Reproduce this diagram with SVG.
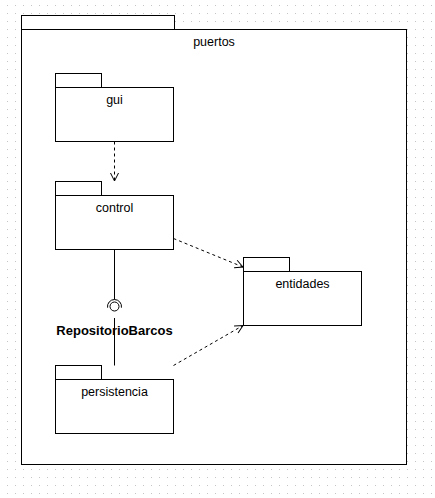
<svg xmlns="http://www.w3.org/2000/svg" width="435" height="498" viewBox="0 0 435 498">
<style>
.pkg{fill:#fff;stroke:#000;stroke-width:1}
.lbl{font-family:"Liberation Sans",Arial,sans-serif;font-size:12.5px;fill:#000;text-anchor:middle}
.bold{font-family:"Liberation Sans",Arial,sans-serif;font-size:13px;font-weight:bold;fill:#000;text-anchor:middle}
.dep{fill:none;stroke:#000;stroke-width:1;stroke-dasharray:3 3}
.solid{fill:none;stroke:#000;stroke-width:1}
</style>
<defs>
<pattern id="grid" width="8" height="8" patternUnits="userSpaceOnUse">
<rect x="7" y="5" width="1" height="1" fill="#c4c4c4"/>
</pattern>
<marker id="open" markerWidth="10" markerHeight="10" refX="8" refY="4" orient="auto" markerUnits="userSpaceOnUse" overflow="visible">
<path d="M0,0 L8,4 L0,8" fill="none" stroke="#000" stroke-width="1"/>
</marker>
</defs>
<rect width="435" height="498" fill="#fff"/>
<rect width="435" height="498" fill="url(#grid)"/>
<g id="puertos">
<rect class="pkg" x="21.5" y="15.5" width="153" height="14"/>
<rect class="pkg" x="21.5" y="29.5" width="385" height="435"/>
<text class="lbl" x="214" y="45.5">puertos</text>
</g>
<g id="gui">
<rect class="pkg" x="55.5" y="73.5" width="46" height="14"/>
<rect class="pkg" x="55.5" y="87.5" width="118" height="54"/>
<text class="lbl" x="114.5" y="103.5">gui</text>
</g>
<g id="control">
<rect class="pkg" x="55.5" y="181.5" width="46" height="14"/>
<rect class="pkg" x="55.5" y="195.5" width="118" height="54"/>
<text class="lbl" x="114.5" y="211.5">control</text>
</g>
<g id="entidades">
<rect class="pkg" x="243.5" y="257.5" width="46" height="14"/>
<rect class="pkg" x="243.5" y="271.5" width="118" height="54"/>
<text class="lbl" x="302.5" y="287.5">entidades</text>
</g>
<g id="persistencia">
<rect class="pkg" x="55.5" y="365.5" width="46" height="14"/>
<rect class="pkg" x="55.5" y="379.5" width="118" height="54"/>
<text class="lbl" x="114.5" y="395.5">persistencia</text>
</g>
<g id="connectors">
<path class="dep" d="M114.5,141.5 L114.5,181" marker-end="url(#open)"/>
<path class="dep" d="M173.5,238.5 L243,267" marker-end="url(#open)"/>
<path class="dep" d="M173.5,365.5 L243,325.5" marker-end="url(#open)"/>
<path class="solid" d="M114.5,249.5 L114.5,299.5"/>
<path class="solid" d="M107.6,307.7 A7,7 0 1 1 121.4,307.7"/>
<circle class="solid" cx="114.5" cy="306.5" r="4.5"/>
<path class="solid" d="M114.5,318 L114.5,365.5"/>
</g>
<g id="RepositorioBarcos">
<text class="bold" x="114.5" y="335">RepositorioBarcos</text>
</g>
</svg>
